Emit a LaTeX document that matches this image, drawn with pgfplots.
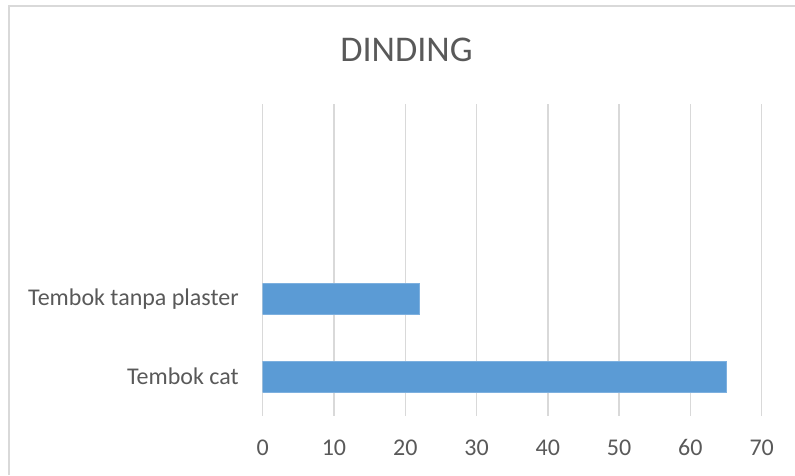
\documentclass[border=0pt]{standalone}
\usepackage{fontspec}
\setmainfont{Carlito}
\usepackage{pgfplots}
\pgfplotsset{compat=1.18}

\definecolor{barblue}{HTML}{5B9BD5}
\definecolor{baredge}{HTML}{7DB0DF}
\definecolor{gridgray}{HTML}{D9D9D9}
\definecolor{textgray}{HTML}{595959}

\begin{document}
\begin{tikzpicture}
  % canvas: 1 px = 0.5 pt
  \useasboundingbox (0,0) rectangle (397.5pt,237.5pt);
  % chart area frame (left and top edges)
  \draw[gridgray, line width=1pt] (4.65pt,0pt) -- (4.65pt,234.6pt) -- (397.5pt,234.6pt);

  % title
  \node[inner sep=0pt, text=textgray, font=\fontsize{18.1pt}{20pt}\selectfont]
    at (203.25pt,212.5pt) {DINDING};

  \begin{axis}[
    at={(131.35pt,29.65pt)}, anchor=south west,
    scale only axis,
    width=249.5pt, height=155.85pt,
    xmin=0, xmax=70,
    ymin=-0.5, ymax=3.5,
    xtick={0,10,...,70},
    ytick={0,1},
    yticklabels={Tembok cat, Tembok tanpa plaster},
    xmajorgrids,
    grid style={gridgray, line width=0.75pt},
    axis line style={draw=none},
    major tick length=0pt,
    tick label style={text=textgray, font=\fontsize{12pt}{14pt}\selectfont},
    /pgf/number format/assume math mode=true,
    xticklabel style={anchor=center, inner sep=0pt, yshift=-16pt},
    yticklabel style={anchor=east, inner sep=0pt, xshift=-11.8pt},
  ]
    \addplot[xbar, bar width=15.5pt, fill=barblue, draw=baredge, line width=0.4pt]
      coordinates {(65,0) (22,1)};
  \end{axis}
\end{tikzpicture}
\end{document}
